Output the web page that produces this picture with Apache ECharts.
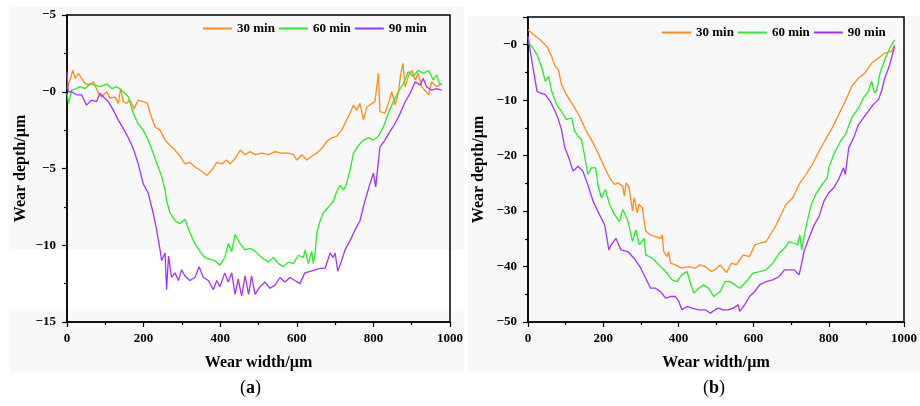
<!DOCTYPE html>
<html>
<head>
<meta charset="utf-8">
<script src="https://cdn.jsdelivr.net/npm/echarts@6/dist/echarts.min.js"></script>
<style>
  html, body { margin: 0; padding: 0; background: #fff; }
  #chart { width: 920px; height: 406px; }
</style>
</head>
<body>
<div id="chart"></div>
<script>
// wear profiles: width (µm) / depth (µm)
const legendNames = ['30 min', '60 min', '90 min']
const colors = ['#ff8c1a', '#2cea2c', '#a033ff']

// ---- panel (a)
const a30x = [0, 8, 15, 21, 30, 38, 47, 60, 69, 82, 90, 104, 112, 125, 134, 140, 147, 156, 164, 175, 186, 199, 210, 217, 230, 243, 256, 269, 282, 295, 308, 321, 334, 347, 365, 378, 391, 404, 417, 426, 439, 452, 465, 478, 491, 508, 526, 543, 561, 578, 591, 600, 613, 626, 639, 652, 665, 678, 691, 704, 717, 730, 739, 748, 756, 765, 774, 783, 796, 804, 813, 817, 830, 839, 848, 857, 865, 871, 877, 883, 891, 900, 909, 917, 926, 944, 952, 965, 978]
const a30y = [0.2, 0.76, 1.4, 0.87, 1.2, 0.87, 0.54, 0.43, 0.65, -0.1, -0.33, 0, -0.43, -0.33, -0.76, 0.2, -0.65, -0.76, -0.54, -1.1, -0.54, -0.65, -0.76, -1.4, -2.3, -2.5, -3.15, -3.5, -3.8, -4.2, -4.7, -4.6, -4.9, -5.1, -5.45, -5.1, -4.6, -4.7, -4.45, -4.7, -4.35, -3.8, -4.1, -3.9, -4.1, -4.0, -4.1, -3.9, -4.0, -4.0, -4.1, -4.45, -4.1, -4.45, -4.2, -4.0, -3.7, -3.25, -3.0, -2.9, -2.5, -1.85, -1.4, -0.87, -1.2, -0.76, -1.85, -1.0, -0.76, -0.65, 1.2, -1.3, -1.4, -0.76, 0, -0.87, -0.1, 1.1, 1.85, 0.3, 1.0, 1.4, 0.76, 1.2, 0.33, -0.2, 0.65, 0.33, 0.54]

const a60x = [0, 4, 12, 25, 34, 47, 60, 73, 86, 104, 117, 130, 147, 160, 173, 186, 199, 212, 225, 238, 247, 256, 260, 269, 282, 295, 308, 321, 334, 347, 360, 373, 386, 399, 412, 421, 430, 439, 452, 465, 478, 491, 508, 526, 539, 552, 565, 578, 591, 604, 617, 622, 630, 639, 643, 648, 652, 661, 669, 683, 696, 704, 713, 722, 730, 739, 748, 761, 774, 787, 800, 813, 826, 839, 852, 865, 878, 891, 904, 917, 930, 944, 956, 965, 974, 978]
const a60y = [-0.1, -0.76, 0.1, 0.2, 0.33, 0.2, 0.54, 0.43, 0.33, 0.5, 0.2, 0.33, 0, -0.33, -1.4, -2.1, -2.5, -3.15, -4.0, -4.9, -5.5, -6.4, -7.1, -7.9, -8.4, -8.6, -8.3, -9.2, -9.9, -10.4, -10.8, -10.9, -11.0, -11.3, -10.8, -9.9, -10.4, -9.3, -9.9, -10.3, -10.2, -10.4, -10.8, -11.1, -10.8, -11.2, -11.4, -11.1, -11.2, -10.65, -10.8, -10.3, -11.2, -10.4, -11.2, -10.5, -9.2, -8.4, -7.9, -7.5, -7.1, -6.5, -6.1, -6.4, -6.0, -5.1, -4.0, -3.5, -3.15, -3.0, -3.15, -2.9, -2.3, -1.4, -0.65, 0, 0.54, 1.3, 1.0, 1.4, 1.2, 1.4, 0.76, 1.1, 0.43, 0.54]

const a90x = [0, 3, 12, 25, 38, 51, 64, 77, 86, 95, 108, 121, 134, 147, 160, 173, 186, 199, 212, 225, 234, 243, 247, 256, 260, 265, 273, 282, 291, 299, 308, 321, 334, 345, 356, 369, 382, 391, 399, 412, 421, 430, 439, 447, 456, 465, 474, 482, 491, 504, 517, 530, 543, 556, 569, 582, 595, 608, 621, 635, 648, 661, 674, 687, 695, 700, 707, 717, 726, 739, 752, 765, 778, 791, 800, 806, 817, 830, 843, 856, 870, 883, 896, 909, 922, 930, 939, 952, 965, 978]
const a90y = [1.3, 0, 0, -0.2, -0.2, -0.87, -0.54, -0.65, -0.1, -0.33, -0.65, -1.2, -1.85, -2.4, -3.0, -3.7, -4.7, -6.0, -6.6, -7.9, -9.0, -10.3, -11.0, -10.5, -12.9, -10.7, -12.1, -11.8, -12.3, -11.6, -12.0, -12.3, -12.1, -11.4, -12.1, -12.3, -12.9, -12.3, -12.7, -11.8, -12.4, -11.8, -13.2, -12.2, -13.3, -12.0, -13.2, -12.0, -13.2, -12.7, -12.4, -12.8, -12.6, -12.1, -12.4, -12.1, -12.3, -12.5, -11.8, -11.7, -11.6, -11.5, -11.5, -10.5, -10.8, -10.5, -11.7, -11.0, -10.3, -9.7, -9.0, -8.4, -7.1, -6.0, -5.3, -6.2, -3.6, -3.15, -2.6, -2.1, -1.4, -0.65, -0.1, 0.65, 0.43, 0.87, 0.33, 0.1, 0.2, 0.1]

// ---- panel (b)
const b30x = [0, 15, 32, 50, 63, 72, 81, 89, 102, 119, 137, 155, 173, 190, 204, 217, 230, 239, 252, 256, 261, 269, 278, 282, 291, 295, 304, 313, 326, 339, 352, 357, 361, 370, 374, 379, 392, 409, 427, 444, 457, 471, 488, 502, 511, 528, 541, 554, 572, 589, 603, 616, 633, 647, 660, 673, 686, 704, 721, 739, 756, 774, 791, 809, 826, 844, 861, 879, 896, 914, 932, 949, 967, 975]
const b30y = [2.7, 1.8, 0.9, -0.3, -2.1, -3.9, -4.5, -7.2, -9.0, -10.8, -12.9, -15.6, -17.7, -20.1, -22.2, -24.0, -25.2, -24.9, -25.5, -27.3, -24.9, -25.8, -30.0, -27.6, -30.3, -28.8, -29.4, -33.6, -34.3, -34.6, -34.9, -34.3, -37.3, -38.2, -37.3, -39.4, -39.7, -40.3, -40.0, -40.3, -39.7, -40.0, -40.9, -40.3, -39.7, -41.1, -39.4, -39.7, -37.9, -38.2, -36.1, -35.8, -35.5, -34.0, -32.5, -30.6, -28.8, -27.6, -25.2, -23.4, -21.6, -19.2, -17.1, -15.0, -12.6, -10.2, -7.5, -6.0, -5.1, -3.3, -2.4, -1.5, -1.2, 0]

const b60x = [0, 10, 24, 37, 46, 55, 63, 76, 89, 102, 116, 124, 133, 142, 150, 159, 168, 180, 186, 195, 206, 217, 230, 243, 252, 265, 278, 287, 296, 309, 313, 331, 348, 366, 383, 396, 409, 423, 432, 441, 454, 467, 480, 494, 511, 524, 537, 550, 563, 581, 598, 616, 633, 651, 668, 682, 695, 708, 717, 723, 728, 739, 752, 765, 782, 796, 800, 813, 831, 844, 861, 879, 892, 905, 914, 921, 927, 936, 949, 962, 975]
const b60y = [0.3, -0.3, -1.8, -4.2, -6.6, -5.7, -8.4, -10.8, -12.0, -13.5, -13.2, -15.6, -16.5, -17.1, -19.8, -23.4, -22.2, -22.2, -25.2, -27.6, -26.1, -28.8, -30.6, -31.9, -29.7, -31.6, -35.5, -33.4, -36.1, -34.9, -37.9, -38.5, -39.7, -40.9, -42.4, -42.7, -41.5, -40.9, -43.0, -44.8, -43.9, -43.3, -43.9, -45.4, -44.5, -42.7, -42.7, -43.3, -43.9, -42.7, -41.2, -40.9, -40.6, -39.4, -37.6, -36.7, -35.5, -35.8, -36.1, -34.3, -37.0, -33.0, -29.1, -27.0, -25.2, -24.0, -22.2, -19.8, -17.4, -16.2, -13.2, -11.4, -9.6, -8.4, -6.6, -8.7, -8.4, -5.1, -2.7, -0.6, 0.9]

const b90x = [0, 6, 15, 24, 32, 46, 59, 72, 81, 89, 98, 107, 120, 133, 146, 159, 173, 190, 204, 215, 221, 234, 247, 265, 282, 300, 313, 326, 339, 352, 366, 379, 392, 401, 409, 423, 436, 454, 471, 485, 498, 506, 519, 532, 546, 559, 563, 576, 589, 603, 616, 633, 651, 668, 682, 695, 708, 721, 728, 734, 747, 761, 774, 787, 800, 813, 826, 839, 844, 853, 866, 879, 892, 905, 918, 932, 940, 949, 962, 975]
const b90y = [1.5, -1.2, -4.8, -8.4, -8.7, -9.0, -10.2, -12.0, -13.5, -15.3, -18.6, -20.1, -22.8, -21.9, -22.8, -25.2, -28.2, -30.6, -32.5, -37.0, -36.1, -34.9, -37.0, -37.3, -38.5, -40.3, -42.1, -43.9, -43.9, -44.5, -45.7, -45.4, -45.4, -46.3, -47.8, -47.2, -47.5, -47.8, -47.8, -48.4, -47.8, -47.5, -47.8, -47.8, -47.5, -46.9, -48.1, -46.9, -45.4, -44.5, -43.3, -42.7, -42.4, -41.8, -40.6, -40.6, -40.6, -41.5, -39.4, -37.3, -34.9, -32.5, -31.0, -28.2, -26.7, -25.8, -24.3, -22.2, -23.4, -18.6, -16.8, -14.4, -13.2, -12.0, -10.8, -9.9, -8.4, -6.0, -3.6, -0.3]

const FONT = '"Liberation Serif", "Times New Roman", serif'
const zip = (xs, ys) => xs.map((x, i) => [x, ys[i]])

const panels = [
  { series: [zip(a30x, a30y), zip(a60x, a60y), zip(a90x, a90y)], min: -15, max: 5, interval: 5 },
  { series: [zip(b30x, b30y), zip(b60x, b60y), zip(b90x, b90y)], min: -50, max: 5, interval: 10 },
]

const axisLine = { show: true, onZero: false, lineStyle: { color: '#000', width: 1.5 } }
const tickStyle = { color: '#000', width: 1.2 }

const chart = echarts.init(document.getElementById('chart'), null, { renderer: 'canvas' })

const option = {
  animation: false,
  backgroundColor: '#fff',
  graphic: [
    // panel backgrounds as in the source image (incl. its pale band)
    { type: 'rect', z: -10, shape: { x: 10, y: 6, width: 454, height: 367 }, style: { fill: '#f8f8f8' } },
    { type: 'rect', z: -9, shape: { x: 10, y: 250, width: 454, height: 61 }, style: { fill: '#ffffff' } },
    { type: 'rect', z: -10, shape: { x: 468, y: 16, width: 452, height: 357 }, style: { fill: '#f8f8f8' } },
    {
      type: 'text', left: 240, top: 379,
      style: { text: '({b|a})', font: '18px ' + FONT, fill: '#000',
        rich: { b: { fontWeight: 'bold', fontSize: 18, fontFamily: FONT } } },
    },
    {
      type: 'text', left: 703, top: 379,
      style: { text: '({b|b})', font: '18px ' + FONT, fill: '#000',
        rich: { b: { fontWeight: 'bold', fontSize: 18, fontFamily: FONT } } },
    },
  ],
  grid: [
    { left: 67, top: 15, width: 383, height: 307, show: true, borderColor: '#000', borderWidth: 1.5, backgroundColor: 'transparent' },
    { left: 528, top: 17, width: 380, height: 305, show: true, borderColor: '#000', borderWidth: 1.5, backgroundColor: 'transparent' },
  ],
  legend: [
    { left: 198, top: 17 }, { left: 657, top: 21 },
  ].map((pos) => ({
    ...pos,
    data: legendNames,
    icon: 'rect',
    itemWidth: 29,
    itemHeight: 2,
    itemGap: 4,
    textStyle: { fontFamily: FONT, fontWeight: 'bold', fontSize: 13, color: '#000' },
  })),
  xAxis: panels.map((p, i) => ({
    type: 'value',
    gridIndex: i,
    min: 0,
    max: 1000,
    interval: 200,
    name: 'Wear width/µm',
    nameLocation: 'middle',
    nameGap: 33,
    nameTextStyle: { fontFamily: FONT, fontWeight: 'bold', fontSize: 16, color: '#000' },
    axisLine,
    axisTick: { show: true, inside: false, length: 5, lineStyle: tickStyle },
    minorTick: { show: true, splitNumber: 2, length: 3, lineStyle: tickStyle },
    axisLabel: {
      margin: 10, fontFamily: FONT, fontWeight: 'bold', fontSize: 13, color: '#000',
      formatter: (v) => String(v),
    },
    splitLine: { show: false },
  })),
  yAxis: panels.map((p, i) => ({
    type: 'value',
    gridIndex: i,
    min: p.min,
    max: p.max,
    interval: p.interval,
    name: 'Wear depth/µm',
    nameLocation: 'middle',
    nameGap: i === 0 ? 38 : 41,
    nameTextStyle: { fontFamily: FONT, fontWeight: 'bold', fontSize: 16, color: '#000' },
    axisLine,
    axisTick: { show: true, inside: false, length: 5, lineStyle: tickStyle },
    minorTick: { show: true, splitNumber: 2, length: 3, lineStyle: tickStyle },
    axisLabel: {
      margin: 11,
      showMaxLabel: i === 0,
      fontFamily: FONT, fontWeight: 'bold', fontSize: 13, color: '#000',
      // the source prints every tick with a leading dash
      formatter: (v) => '\u2212' + Math.abs(v),
    },
    splitLine: { show: false },
  })),
  series: panels.flatMap((p, i) => p.series.map((data, k) => ({
    type: 'line',
    name: legendNames[k],
    xAxisIndex: i,
    yAxisIndex: i,
    data,
    showSymbol: false,
    symbol: 'none',
    color: colors[k],
    lineStyle: { width: 1.3, color: colors[k] },
  }))),
}

chart.setOption(option)
</script>
</body>
</html>
